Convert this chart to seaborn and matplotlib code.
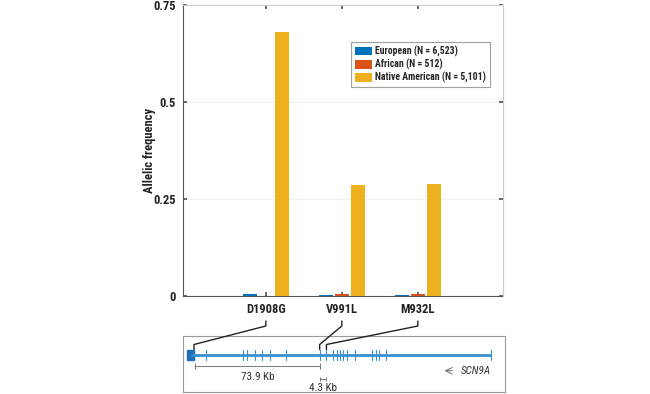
import matplotlib
matplotlib.use("Agg")
import matplotlib.pyplot as plt
import seaborn as sns
import pandas as pd
import numpy as np

variants = ["D1908G", "V991L", "M932L"]
populations = ["European (N = 6,523)", "African (N = 512)", "Native American (N = 5,101)"]
european = [0.004, 0.003, 0.003]
african = [0.0, 0.004, 0.004]
native_american = [0.680, 0.286, 0.288]
colors = ["#0072BD", "#D95319", "#EDB120"]
yticks = [0, 0.25, 0.5, 0.75]
ytick_labels = ["0", "0.25", "0.5", "0.75"]

# gene model (diagram units, kb-like)
exon_pos = [9, 31, 33, 38, 42, 47, 56, 76, 80, 84, 86, 88, 90, 92, 97, 107, 109, 111, 115, 177]
variant_gene_pos = [2, 76, 80]
gene_start, gene_end = 0, 177
scale1 = (2.5, 76, "73.9 Kb")
scale2 = (76, 80, "4.3 Kb")

rows = []
for i, v in enumerate(variants):
    for p, vals in zip(populations, [european, african, native_american]):
        rows.append({"variant": v, "population": p, "freq": vals[i]})
df = pd.DataFrame(rows)

sns.set_theme(style="white")
fam = ["Roboto Condensed", "Liberation Sans", "DejaVu Sans"]
plt.rcParams["font.family"] = fam

fig = plt.figure(figsize=(6.5, 3.94), dpi=100)
ax = fig.add_axes([0.2815, 0.2487, 0.4923, 0.7386])
sns.barplot(data=df, x="variant", y="freq", hue="population", palette=colors,
            width=0.63, gap=0.15, ax=ax, saturation=1, errorbar=None, zorder=3,
            edgecolor="none", linewidth=0)
ax.set_xlim(-1.09, 3.12)
ax.set_ylim(0, 0.75)
ax.set_yticks(yticks)
ax.set_yticklabels(ytick_labels, fontsize=9, fontweight="bold", color="#222222")
for lab in ax.get_xticklabels():
    lab.set_fontsize(9)
    lab.set_fontweight("bold")
    lab.set_color("#222222")
ax.set_xlabel("")
ax.set_ylabel("Allelic frequency", fontsize=9, fontweight="bold", color="#222222")
ax.yaxis.set_label_coords(-0.084, 0.5)
ax.tick_params(axis="both", direction="in", length=3, color="#555555", pad=5,
               top=True, right=True, bottom=True, left=True)
ax.grid(axis="y", color="#ececec", linewidth=0.6)
ax.set_axisbelow(True)
for s in ["left", "bottom"]:
    ax.spines[s].set_color("#555555")
    ax.spines[s].set_linewidth(0.8)
    ax.spines[s].set_zorder(2)
for s in ["top", "right"]:
    ax.spines[s].set_color("#cfcfcf")
    ax.spines[s].set_linewidth(0.8)

leg = ax.legend(loc="upper right", bbox_to_anchor=(0.958, 0.872),
                prop={"weight": "bold", "size": 7, "family": fam},
                frameon=True, fancybox=False, handlelength=1.8, handleheight=1.0,
                handletextpad=0.3, borderpad=0.35, labelspacing=0.2, borderaxespad=0)
leg.get_frame().set_edgecolor("#888888")
leg.get_frame().set_linewidth(0.8)

# gene diagram
gx = fig.add_axes([0.2815, 0.005, 0.495, 0.142])
gx.set_xlim(-4.5, 185)
gx.set_ylim(0, 1)
gx.set_xticks([]); gx.set_yticks([])
for s in gx.spines.values():
    s.set_color("#999999"); s.set_linewidth(0.8)
gcol = "#3a8fd0"
gy = 0.66
gx.plot([gene_start, gene_end], [gy, gy], color=gcol, lw=2, solid_capstyle="butt")
gx.add_patch(plt.Rectangle((gene_start - 2.3, gy - 0.09), 4.5, 0.18, color="#1f6fb8"))
for e in exon_pos:
    gx.plot([e, e], [gy - 0.09, gy + 0.09], color=gcol, lw=0.8)
sy = 0.46
gx.plot([scale1[0], scale1[1]], [sy, sy], color="#777777", lw=0.7, marker="|", ms=4, mew=0.7)
gx.text((scale1[0] + scale1[1]) / 2, sy - 0.1, scale1[2], ha="center", va="top", fontsize=8, color="#333333")
sy2 = 0.24
gx.plot([scale2[0], scale2[1]], [sy2, sy2], color="#777777", lw=0.7, marker="|", ms=3, mew=0.7)
gx.text((scale2[0] + scale2[1]) / 2, sy2 - 0.07, scale2[2], ha="center", va="top", fontsize=8, color="#333333")
gx.annotate("", xy=(148, 0.38), xytext=(156, 0.38),
            arrowprops=dict(arrowstyle="->", color="#555555", lw=0.6))
gx.text(159, 0.38, "SCN9A", ha="left", va="center", fontsize=8, style="italic", color="#333333")

# connectors from tick labels to gene positions
ov = fig.add_axes([0, 0, 1, 1], facecolor="none")
ov.set_xlim(0, 650); ov.set_ylim(394, 0); ov.axis("off")
fig.canvas.draw()
H = 394
for i, gp in enumerate(variant_gene_pos):
    x_top = ax.transData.transform((i, 0))[0]
    xb, yb = gx.transData.transform((gp, gy + 0.1))
    yb = H - yb
    ov.plot([x_top, x_top, xb, xb], [321, 326, yb - 5, yb], color="#222222", lw=1.0)

fig.savefig("out.png", dpi=100)
